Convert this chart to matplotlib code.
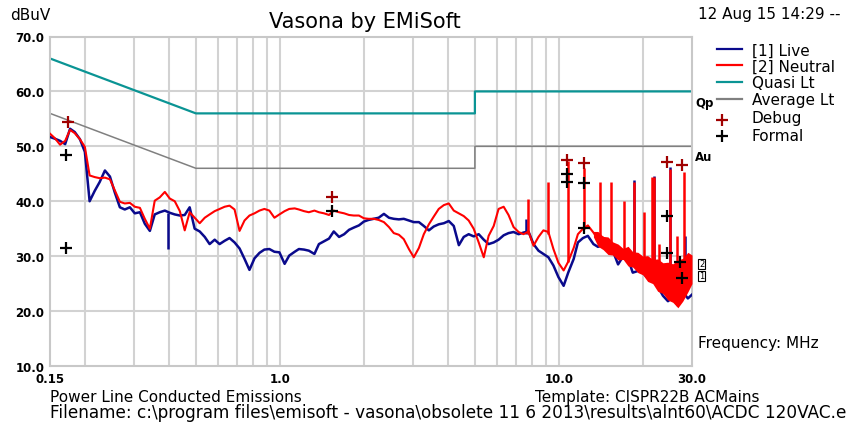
import matplotlib
matplotlib.use("Agg")
import matplotlib.pyplot as plt
from matplotlib.ticker import NullLocator

# sweep frequencies (MHz) and measured levels (dBuV)
FREQ_MHZ = [
    0.15, 0.156, 0.163, 0.17, 0.177, 0.184, 0.192, 0.2, 0.208, 0.217,
    0.226, 0.236, 0.246, 0.256, 0.267, 0.278, 0.29, 0.302, 0.315, 0.328,
    0.342, 0.356, 0.371, 0.387, 0.403, 0.42, 0.438, 0.456, 0.475, 0.495,
    0.516, 0.538, 0.56, 0.584, 0.608, 0.634, 0.66, 0.688, 0.717, 0.747,
    0.778, 0.811, 0.845, 0.88, 0.917, 0.956, 0.996, 1.04, 1.08, 1.13,
    1.17, 1.22, 1.27, 1.33, 1.38, 1.44, 1.5, 1.56, 1.63, 1.7,
    1.77, 1.84, 1.92, 2.0, 2.08, 2.17, 2.26, 2.36, 2.46, 2.56,
    2.67, 2.78, 2.9, 3.02, 3.15, 3.28, 3.42, 3.56, 3.71, 3.87,
    4.03, 4.2, 4.38, 4.56, 4.75, 4.95, 5.16, 5.38, 5.6, 5.84,
    6.08, 6.34, 6.6, 6.88, 7.17, 7.47, 7.78, 8.11, 8.45, 8.8,
    9.17, 9.56, 9.96, 10.4, 10.8, 11.3, 11.7, 12.2, 12.7, 13.3,
    13.8, 14.4, 15.0, 15.6, 16.3, 17.0, 17.7, 18.4, 19.2, 20.0,
    20.8, 21.7, 22.6, 23.6, 24.6, 25.6, 26.7, 27.8, 29.0, 30.0]

LIVE_DBUV = [
    51.7, 51.4, 51.0, 50.4, 53.2, 52.6, 51.3, 49.0, 40.0, 41.9,
    43.5, 45.6, 44.5, 41.6, 38.9, 38.5, 38.9, 37.8, 38.0, 35.9,
    34.6, 37.6, 38.0, 38.3, 37.9, 37.6, 37.4, 37.5, 38.9, 35.0,
    34.5, 33.5, 32.2, 33.0, 32.2, 32.8, 33.3, 32.5, 31.4, 29.5,
    27.5, 29.6, 30.6, 31.2, 31.3, 30.8, 30.7, 28.6, 30.1, 30.8,
    31.3, 31.2, 31.0, 30.4, 32.2, 32.7, 33.2, 34.5, 33.5, 34.0,
    34.8, 35.2, 35.6, 36.3, 36.6, 36.8, 37.0, 37.7, 37.0, 36.8,
    36.7, 36.8, 36.5, 36.2, 36.2, 35.5, 34.7, 35.4, 35.8, 36.0,
    36.4, 35.5, 32.0, 33.5, 34.0, 33.6, 34.0, 33.0, 32.2, 32.5,
    33.0, 33.8, 34.2, 34.4, 34.0, 34.3, 34.5, 32.2, 31.0, 30.4,
    29.8, 28.3, 26.2, 24.6, 27.0, 29.5, 32.5, 33.3, 33.7, 32.2,
    31.7, 32.0, 31.6, 31.0, 28.5, 30.0, 29.5, 27.0, 27.3, 27.0,
    26.0, 26.2, 24.5, 22.8, 21.8, 22.5, 21.0, 23.5, 22.3, 23.0]

NEUTRAL_DBUV = [
    52.3, 51.5, 50.3, 51.0, 53.0, 52.4, 51.3, 49.9, 44.7, 44.4,
    44.2, 44.3, 44.0, 42.0, 39.9, 39.6, 39.7, 39.0, 38.8, 36.8,
    35.0, 40.1, 40.7, 41.7, 40.5, 40.0, 38.2, 34.7, 38.0, 37.0,
    36.0, 37.0, 37.6, 38.2, 38.6, 39.0, 39.2, 38.5, 34.6, 36.5,
    37.4, 37.8, 38.3, 38.6, 38.3, 37.0, 37.6, 38.2, 38.6, 38.7,
    38.5, 38.2, 38.0, 38.3, 38.0, 37.8, 37.5, 38.3, 38.0, 37.8,
    37.5, 37.4, 37.4, 36.9, 36.8, 36.8, 36.6, 36.2, 35.3, 34.2,
    33.9, 33.1, 31.3, 29.8, 31.5, 34.0, 35.8, 37.2, 38.6, 39.3,
    39.6, 38.3, 37.8, 37.3, 36.5, 35.0, 32.5, 29.8, 33.7, 35.5,
    38.6, 39.0, 37.5, 35.3, 34.4, 34.0, 34.5, 31.9, 33.5, 34.7,
    34.4, 31.3, 28.8, 27.4, 29.0, 31.5, 34.0, 35.0, 35.6, 34.3,
    33.1, 33.4, 32.5, 32.0, 31.0, 30.4, 29.8, 29.3, 28.3, 27.6,
    27.1, 26.2, 25.2, 24.5, 23.4, 22.8, 22.2, 23.4, 27.0, 28.0]

# dense neutral band above ~13 MHz
BAND_MHZ = [13.3, 13.8, 14.4, 15.0, 15.6, 16.3, 17.0, 17.7, 18.4, 19.2, 20.0,
            20.8, 21.7, 22.6, 23.6, 24.6, 25.6, 26.7, 27.8, 29.0, 30.0]
BAND_LO = [33.5, 31.8, 31.2, 30.3, 30.2, 29.3, 29.4, 28.2, 28.0, 27.0, 26.6,
           25.4, 25.0, 23.6, 23.2, 22.0, 21.6, 20.6, 21.8, 23.5, 25.0]
BAND_HI = [34.5, 34.5, 33.6, 33.5, 32.6, 32.2, 31.4, 31.8, 30.8, 30.7, 30.0,
           30.1, 29.4, 29.5, 28.8, 28.9, 28.6, 29.3, 29.6, 30.7, 30.2]

# narrow harmonics
NEUTRAL_SPIKE_MHZ = [7.77, 9.16, 10.8, 12.3, 14.0, 15.4, 17.1, 18.6, 20.2, 21.5, 21.9, 22.8, 25.0, 26.4, 28.0]
NEUTRAL_SPIKE_BASE = [34.0, 34.0, 29.0, 35.0, 33.0, 32.0, 30.4, 29.3, 27.6, 26.2, 26.2, 25.2, 22.8, 22.2, 23.4]
NEUTRAL_SPIKE_TOP = [40.4, 43.5, 47.4, 46.0, 43.5, 43.5, 40.1, 43.5, 38.0, 44.4, 44.4, 32.2, 45.9, 33.7, 45.3]
LIVE_SPIKE_MHZ = [0.396, 7.6, 18.6, 21.9, 25.0, 28.4]
LIVE_SPIKE_LO = [31.3, 34.0, 30.0, 28.0, 25.0, 23.0]
LIVE_SPIKE_HI = [37.9, 36.8, 43.8, 44.6, 46.3, 33.7]

# CISPR 22 class B limits
LIMIT_MHZ = [0.15, 0.5, 5.0, 5.0, 30.0]
QUASI_DBUV = [66, 56, 56, 60, 60]
AVERAGE_DBUV = [56, 46, 46, 50, 50]

DEBUG_MHZ = [0.174, 1.54, 10.7, 12.3, 24.4, 27.6]
DEBUG_DBUV = [54.5, 40.8, 47.6, 47.0, 47.2, 46.6]
FORMAL_MHZ = [0.171, 0.171, 1.54, 10.7, 10.7, 12.3, 12.3, 24.4, 24.4, 27.2, 27.6]
FORMAL_DBUV = [48.5, 31.4, 38.2, 45.0, 43.5, 43.3, 35.2, 37.4, 30.6, 28.9, 26.1]

X_TICKS = [0.15, 1.0, 10.0, 30.0]
X_TICK_LABELS = ["0.15", "1.0", "10.0", "30.0"]
X_GRID = [0.2, 0.3, 0.4, 0.5, 0.6, 0.7, 0.8, 0.9, 1, 2, 3, 4, 5, 6, 7, 8, 9, 10, 20]
Y_TICKS = [10, 20, 30, 40, 50, 60, 70]
Y_TICK_LABELS = ["10.0", "20.0", "30.0", "40.0", "50.0", "60.0", "70.0"]

LIVE_C = "#0a0a8c"
NEUT_C = "#ff0000"
QP_C = "#0a9494"
AV_C = "#808080"
DBG_C = "#a00000"
GRID_C = "#d2d2d2"

plt.rcParams["font.family"] = ["DejaVu Sans"]
W, H = 854, 427
fig = plt.figure(figsize=(W / 100, H / 100), dpi=100)
L, R, T, B = 50, 692, 37.5, 367
ax = fig.add_axes([L / W, 1 - B / H, (R - L) / W, (B - T) / H])
ax.set_xscale("log")
ax.set_xlim(0.15, 30)
ax.set_ylim(10, 70)

for f in X_GRID:
    ax.axvline(f, color=GRID_C, lw=1.5, zorder=0)
for y in Y_TICKS[1:-1]:
    ax.axhline(y, color=GRID_C, lw=1.5, zorder=0)
for s in ax.spines.values():
    s.set_color("#c8c8c8")
    s.set_linewidth(1.5)

ax.set_xticks(X_TICKS)
ax.set_xticklabels(X_TICK_LABELS)
ax.xaxis.set_minor_locator(NullLocator())
ax.set_yticks(Y_TICKS)
ax.set_yticklabels(Y_TICK_LABELS)
ax.tick_params(length=0, labelsize=8.5, pad=4)
for lab in ax.get_xticklabels() + ax.get_yticklabels():
    lab.set_fontweight("bold")

ax.plot(LIMIT_MHZ, QUASI_DBUV, color=QP_C, lw=1.6, zorder=2)
ax.plot(LIMIT_MHZ, AVERAGE_DBUV, color=AV_C, lw=1.1, zorder=2)

ax.plot(FREQ_MHZ, LIVE_DBUV, color=LIVE_C, lw=1.8, zorder=3)
ax.vlines(LIVE_SPIKE_MHZ, LIVE_SPIKE_LO, LIVE_SPIKE_HI, color=LIVE_C, lw=1.8, zorder=3)
ax.fill_between(BAND_MHZ, BAND_LO, BAND_HI, color=NEUT_C, lw=0, zorder=4)
ax.plot(FREQ_MHZ, NEUTRAL_DBUV, color=NEUT_C, lw=1.5, zorder=4)
ax.vlines(NEUTRAL_SPIKE_MHZ, NEUTRAL_SPIKE_BASE, NEUTRAL_SPIKE_TOP, color=NEUT_C, lw=1.8, zorder=4)

ax.plot(DEBUG_MHZ, DEBUG_DBUV, "+", color=DBG_C, ms=9, mew=1.6, zorder=5)
ax.plot(FORMAL_MHZ, FORMAL_DBUV, "+", color="black", ms=9, mew=1.6, zorder=5)

# overlay in pixel coordinates for text and legend
ov = fig.add_axes([0, 0, 1, 1])
ov.set_xlim(0, W)
ov.set_ylim(H, 0)
ov.axis("off")

ov.text(365, 22, "Vasona by EMiSoft", fontsize=15, ha="center", va="center")
ov.text(10, 16, "dBuV", fontsize=11, ha="left", va="center")
ov.text(698, 15, "12 Aug 15 14:29 --", fontsize=11, ha="left", va="center")

legend_rows = [("[1] Live", LIVE_C, 50), ("[2] Neutral", NEUT_C, 66),
               ("Quasi Lt", QP_C, 83), ("Average Lt", AV_C, 100)]
for label, c, y in legend_rows:
    ov.plot([717, 742], [y, y], color=c, lw=1.6)
    ov.text(752, y + 1, label, fontsize=11, ha="left", va="center")
ov.plot([722], [121], "+", color=DBG_C, ms=9, mew=1.6)
ov.text(752, 119, "Debug", fontsize=11, ha="left", va="center")
ov.plot([722], [137], "+", color="black", ms=9, mew=1.6)
ov.text(752, 137, "Formal", fontsize=11, ha="left", va="center")

ov.text(695, 104, "Qp", fontsize=8.5, fontweight="bold", ha="left", va="center")
ov.text(695, 158, "Au", fontsize=8.5, fontweight="bold", ha="left", va="center")
ov.text(699, 265, "2", fontsize=6, ha="left", va="center",
        bbox=dict(boxstyle="square,pad=0.1", fc="white", ec="black", lw=0.8))
ov.text(699, 277, "1", fontsize=6, ha="left", va="center",
        bbox=dict(boxstyle="square,pad=0.1", fc="white", ec="black", lw=0.8))
ov.text(698, 344, "Frequency: MHz", fontsize=11, ha="left", va="center")

ov.text(50, 398, "Power Line Conducted Emissions", fontsize=11, ha="left", va="center")
ov.text(535, 398, "Template: CISPR22B ACMains", fontsize=11, ha="left", va="center")
ov.text(50, 413, "Filename: c:\\program files\\emisoft - vasona\\obsolete 11 6 2013\\results\\alnt60\\ACDC 120VAC.e",
        fontsize=12.2, ha="left", va="center")

fig.savefig("out.png", dpi=100)
